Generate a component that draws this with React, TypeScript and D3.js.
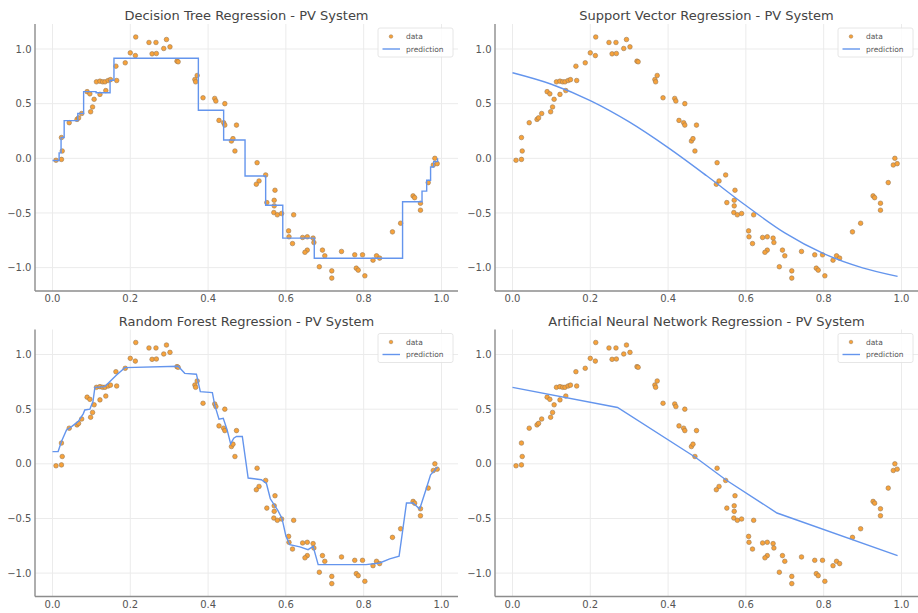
import React from 'react';
import * as d3 from 'd3';

// observed samples (same in every panel)
const dataX = [
  0.009, 0.023, 0.025, 0.023, 0.043, 0.063, 0.067, 0.075, 0.089, 0.096,
  0.098, 0.103, 0.107, 0.113, 0.122, 0.122, 0.129, 0.135, 0.137, 0.143,
  0.149, 0.165, 0.163, 0.187, 0.2, 0.213, 0.214, 0.248, 0.266, 0.256,
  0.267, 0.286, 0.293, 0.302, 0.32, 0.323, 0.366, 0.372, 0.368, 0.387,
  0.417, 0.42, 0.443, 0.428, 0.44, 0.443, 0.473, 0.46, 0.464, 0.469,
  0.526, 0.548, 0.531, 0.524, 0.572, 0.551, 0.57, 0.57, 0.569, 0.578,
  0.589, 0.62, 0.607, 0.608, 0.617, 0.643, 0.655, 0.67, 0.672, 0.655,
  0.649, 0.694, 0.7, 0.686, 0.718, 0.718, 0.743, 0.777, 0.797, 0.781,
  0.786, 0.803, 0.824, 0.833, 0.841, 0.874, 0.895, 0.927, 0.931, 0.946,
  0.946, 0.966, 0.979, 0.989, 0.983,
];
const dataY = [
  -0.018, 0.19, 0.067, -0.01, 0.326, 0.356, 0.37, 0.41, 0.61, 0.59,
  0.426, 0.47, 0.54, 0.7, 0.706, 0.585, 0.7, 0.7, 0.62, 0.712,
  0.72, 0.712, 0.843, 0.874, 0.965, 0.94, 1.11, 1.06, 1.06, 0.956,
  0.959, 1.005, 1.087, 1.02, 0.889, 0.883, 0.721, 0.758, 0.7, 0.554,
  0.548, 0.524, 0.5, 0.347, 0.326, 0.304, 0.304, 0.158, 0.18, 0.067,
  -0.04, -0.152, -0.207, -0.237, -0.292, -0.405, -0.384, -0.435, -0.496, -0.517,
  -0.505, -0.517, -0.664, -0.718, -0.78, -0.724, -0.718, -0.73, -0.77, -0.84,
  -0.86, -0.84, -0.892, -0.992, -1.03, -1.096, -0.852, -0.883, -0.883, -1.005,
  -1.023, -1.075, -0.932, -0.892, -0.913, -0.673, -0.594, -0.344, -0.36, -0.411,
  -0.475, -0.222, -0.061, -0.049, 0.0,
];

// decision tree: step starts and levels
const dtSplits = [0.0, 0.017, 0.022, 0.03, 0.065, 0.08, 0.112, 0.148, 0.158, 0.375, 0.44, 0.495, 0.548, 0.592, 0.673, 0.9, 0.95, 0.962, 0.972, 0.98, 0.99];
const dtLevels = [-0.02, 0.05, 0.19, 0.345, 0.41, 0.61, 0.6, 0.715, 0.915, 0.44, 0.167, -0.162, -0.43, -0.73, -0.915, -0.397, -0.3, -0.2, -0.08, -0.03, 0.0];

// support vector regression
const svrX = [0.0, 0.1, 0.2, 0.3, 0.4, 0.5, 0.6, 0.7, 0.8, 0.9, 0.99];
const svrY = [0.783, 0.678, 0.528, 0.333, 0.098, -0.162, -0.432, -0.682, -0.872, -1.002, -1.08];

// random forest
const rfX = [0.0, 0.0145, 0.023, 0.036, 0.049, 0.066, 0.079, 0.083, 0.096, 0.104, 0.109, 0.134, 0.147, 0.164, 0.186, 0.323, 0.34, 0.37, 0.38, 0.411, 0.417, 0.428, 0.439, 0.449, 0.458, 0.466, 0.473, 0.488, 0.503, 0.537, 0.55, 0.56, 0.58, 0.59, 0.6, 0.61, 0.636, 0.657, 0.67, 0.683, 0.806, 0.841, 0.867, 0.891, 0.897, 0.91, 0.927, 0.944, 0.96, 0.972, 0.99];
const rfY = [0.112, 0.112, 0.204, 0.31, 0.34, 0.386, 0.457, 0.493, 0.5, 0.569, 0.7, 0.706, 0.752, 0.81, 0.88, 0.893, 0.828, 0.82, 0.66, 0.651, 0.539, 0.408, 0.417, 0.31, 0.183, 0.235, 0.25, 0.25, -0.13, -0.146, -0.18, -0.32, -0.43, -0.5, -0.66, -0.74, -0.76, -0.785, -0.755, -0.922, -0.922, -0.907, -0.87, -0.846, -0.694, -0.359, -0.359, -0.414, -0.237, -0.1, -0.03];

// neural network
const annX = [0.0, 0.27, 0.47, 0.55, 0.68, 0.99];
const annY = [0.7, 0.515, 0.06, -0.15, -0.45, -0.84];

const xTicks = [0, 0.2, 0.4, 0.6, 0.8, 1.0];
const yTicks = [-1.0, -0.5, 0.0, 0.5, 1.0];

const FONT = 'DejaVu Sans, sans-serif';

type Pt = [number, number];

function Panel({ title, ox, oy, pred, curve }: { title: string; ox: number; oy: number; pred: Pt[]; curve: any }) {
  const left = ox + 35, right = ox + 458, top = oy + 24, bottom = oy + 291;
  const x = d3.scaleLinear().domain([-0.045, 1.0425]).range([left, right]);
  const y = d3.scaleLinear().domain([-1.214, 1.229]).range([bottom, top]);
  const line = d3.line<Pt>().x(d => x(d[0])).y(d => y(d[1])).curve(curve);
  const fmt = (v: number) => d3.format('.1f')(v).replace('-', '\u2212');
  const lx = right - 80, ly = top + 4;
  return (
    <g>
      {xTicks.map(t => (
        <line key={'gx' + t} x1={x(t)} x2={x(t)} y1={top} y2={bottom} stroke="#ebebeb" strokeWidth={1} />
      ))}
      {yTicks.map(t => (
        <line key={'gy' + t} x1={left} x2={right} y1={y(t)} y2={y(t)} stroke="#ebebeb" strokeWidth={1} />
      ))}
      <line x1={left} x2={left} y1={top} y2={bottom} stroke="#8c8c8c" strokeWidth={1.4} />
      <line x1={left} x2={right} y1={bottom} y2={bottom} stroke="#8c8c8c" strokeWidth={1.4} />
      {xTicks.map(t => (
        <text key={'tx' + t} x={x(t)} y={bottom + 11} textAnchor="middle" fontSize={10} fill="#555" fontFamily={FONT}>{fmt(t)}</text>
      ))}
      {yTicks.map(t => (
        <text key={'ty' + t} x={left - 3.5} y={y(t) + 3.6} textAnchor="end" fontSize={10} fill="#555" fontFamily={FONT}>{fmt(t)}</text>
      ))}
      {dataX.map((v, i) => (
        <circle key={i} cx={x(v)} cy={y(dataY[i])} r={2.3} fill="#f7a23a" stroke="#9a7a55" strokeWidth={0.6} />
      ))}
      <path d={line(pred) || ''} fill="none" stroke="cornflowerblue" strokeWidth={1.4} />
      <text x={(left + right) / 2} y={oy + 20} textAnchor="middle" fontSize={13} fill="#444" fontFamily={FONT}>{title}</text>
      <rect x={lx} y={ly} width={75} height={29} fill="#fff" fillOpacity={0.85} stroke="#e0e0e0" strokeWidth={0.8} rx={2} />
      <circle cx={lx + 13} cy={ly + 8.5} r={1.8} fill="#f7a23a" stroke="#9a7a55" strokeWidth={0.5} />
      <text x={lx + 28} y={ly + 11} fontSize={7.5} fill="#555" fontFamily={FONT}>data</text>
      <line x1={lx + 4.5} x2={lx + 22} y1={ly + 21} y2={ly + 21} stroke="cornflowerblue" strokeWidth={1.4} />
      <text x={lx + 28} y={ly + 23.5} fontSize={7.5} fill="#555" fontFamily={FONT}>prediction</text>
    </g>
  );
}

export default function App() {
  const dt: Pt[] = dtSplits.map((s, i) => [s, dtLevels[i]]);
  const svr: Pt[] = svrX.map((s, i) => [s, svrY[i]]);
  const rf: Pt[] = rfX.map((s, i) => [s, rfY[i]]);
  const ann: Pt[] = annX.map((s, i) => [s, annY[i]]);
  return (
    <svg width={918} height={613} style={{ position: 'absolute', left: 0, top: 0, background: '#fff' }}>
      <rect width={918} height={613} fill="#fff" />
      <Panel title="Decision Tree Regression - PV System" ox={0} oy={0} pred={dt} curve={d3.curveStepAfter} />
      <Panel title="Support Vector Regression - PV System" ox={460} oy={0} pred={svr} curve={d3.curveMonotoneX} />
      <Panel title="Random Forest Regression - PV System" ox={0} oy={305.5} pred={rf} curve={d3.curveLinear} />
      <Panel title="Artificial Neural Network Regression - PV System" ox={460} oy={305.5} pred={ann} curve={d3.curveLinear} />
    </svg>
  );
}
